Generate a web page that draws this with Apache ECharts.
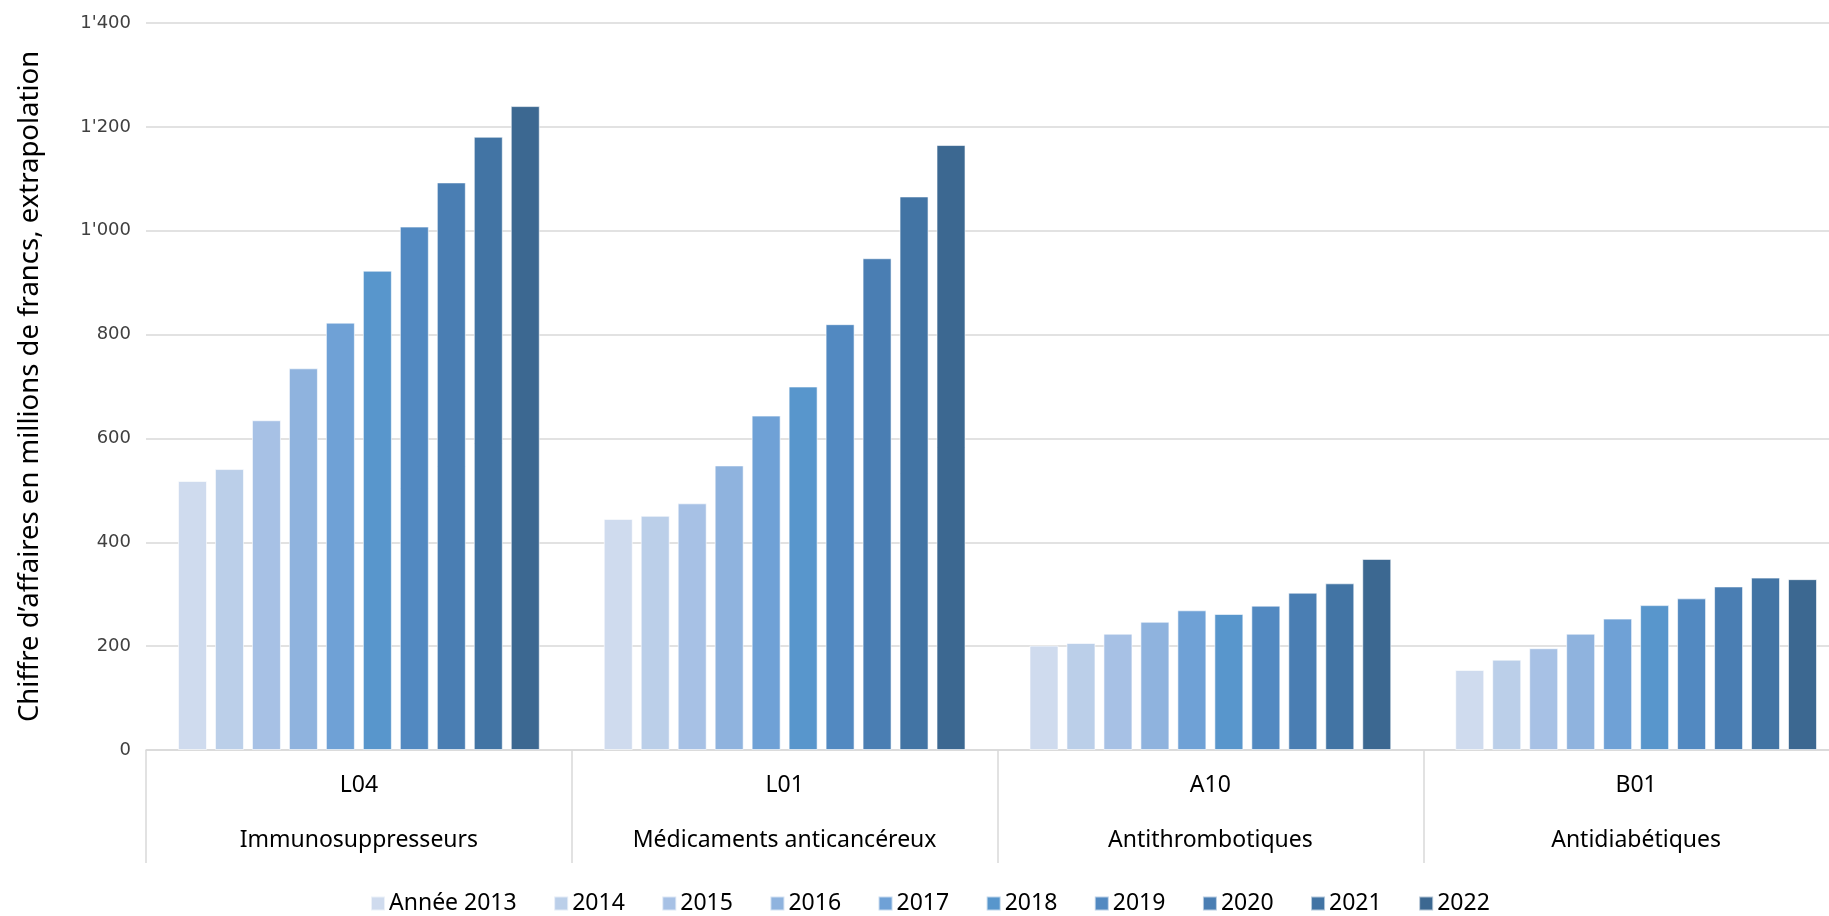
<!DOCTYPE html>
<html><head><meta charset="utf-8">
<script src="https://cdn.jsdelivr.net/npm/echarts@6/dist/echarts.min.js"></script>
<style>html,body{margin:0;padding:0;background:#fff}#c{width:1829px;height:916px}</style>
</head><body><div id="c"></div>
<script>
const codes = ['L04', 'L01', 'A10', 'B01'];
const groupNames = ['Immunosuppresseurs', 'Médicaments anticancéreux', 'Antithrombotiques', 'Antidiabétiques'];
const seriesNames = ['Année 2013', '2014', '2015', '2016', '2017', '2018', '2019', '2020', '2021', '2022'];
const v2013 = [518, 445, 201, 154];
const v2014 = [541, 451, 206, 174];
const v2015 = [635, 475, 224, 196];
const v2016 = [735, 548, 247, 224];
const v2017 = [823, 644, 269, 253];
const v2018 = [923, 700, 262, 279];
const v2019 = [1008, 820, 278, 292];
const v2020 = [1093, 947, 303, 315];
const v2021 = [1181, 1066, 321, 332];
const v2022 = [1240, 1165, 368, 329];
const yTickValues = [0, 200, 400, 600, 800, 1000, 1200, 1400];
const yTickLabels = ['0', '200', '400', '600', '800', "1'000", "1'200", "1'400"];
const yTitle = 'Chiffre d’affaires en millions de francs, extrapolation';

const colors = ['#CFDBEE', '#BBCFE9', '#A7C1E5', '#8FB3DE', '#6FA1D6', '#5896CC', '#5289C1', '#4A7EB3', '#4274A4', '#3C6891'];
const allValues = [v2013, v2014, v2015, v2016, v2017, v2018, v2019, v2020, v2021, v2022];
const narrow = '"Noto Sans", sans-serif';

const chart = echarts.init(document.getElementById('c'), null, {renderer: 'canvas'});
chart.setOption({
  animation: false,
  backgroundColor: '#ffffff',
  color: colors,
  grid: {left: 146, top: 23, bottom: 166, width: 1703, containLabel: false, outerBoundsMode: 'none'},
  legend: {
    top: 892, left: 370, padding: 0,
    itemWidth: 14, itemHeight: 14, itemGap: 36.5,
    icon: 'rect',
    textStyle: {fontFamily: narrow, fontSize: 23, color: '#000', padding: [0, 0, 0, -1]},
    data: seriesNames
  },
  xAxis: {
    type: 'category',
    data: codes.map((c, i) => c + '\n' + groupNames[i]),
    axisLine: {lineStyle: {color: '#d9d9d9', width: 1.5}},
    axisTick: {show: true, interval: 0, length: 113, lineStyle: {color: '#d9d9d9', width: 1.5}},
    axisLabel: {interval: 0, fontFamily: narrow, fontSize: 23, color: '#000', lineHeight: 55, margin: 8}
  },
  yAxis: {
    type: 'value', min: 0, max: 1400, interval: 200,
    name: yTitle, nameLocation: 'middle', nameGap: 102, nameRotate: 90,
    nameTextStyle: {fontFamily: narrow, fontSize: 27.5, color: '#000'},
    axisLine: {show: false}, axisTick: {show: false},
    splitLine: {lineStyle: {color: '#d9d9d9', width: 1.5}},
    axisLabel: {fontFamily: '"DejaVu Sans", sans-serif', fontSize: 18, color: '#404040', margin: 15,
      formatter: v => yTickLabels[yTickValues.indexOf(v)]}
  },
  series: seriesNames.map((n, i) => ({
    name: n, type: 'bar', data: allValues[i],
    barWidth: 29, barGap: '27.5%',
    itemStyle: {color: colors[i], borderColor: 'rgba(255,255,255,0.6)', borderWidth: 1}
  }))
});
</script></body></html>
